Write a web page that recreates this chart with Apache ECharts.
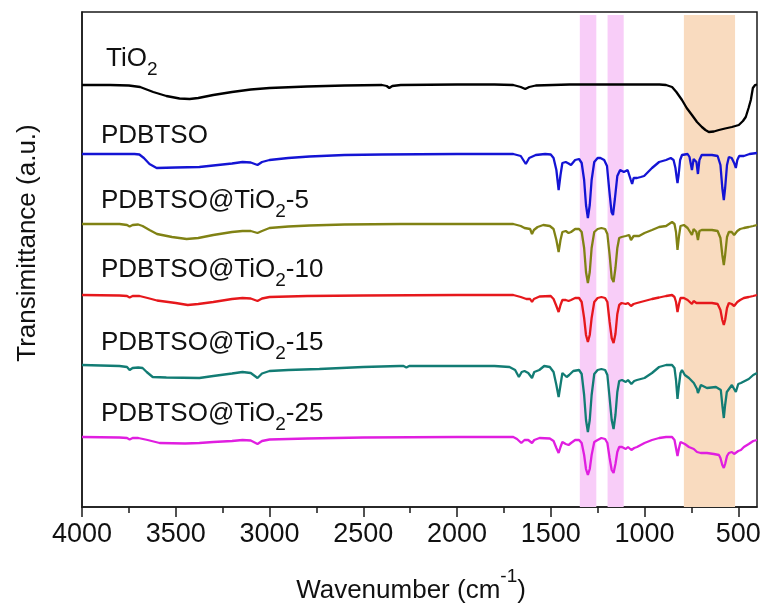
<!DOCTYPE html>
<html><head><meta charset="utf-8">
<script src="https://cdn.jsdelivr.net/npm/echarts@6/dist/echarts.min.js"></script>
<style>html,body{margin:0;padding:0;background:#fff}#c{width:766px;height:612px}</style>
</head><body><div id="c"></div>
<script>
// ---- data ----
const majorTicks = [500, 1000, 1500, 2000, 2500, 3000, 3500, 4000];
const minorTicks = [750, 1250, 1750, 2250, 2750, 3250, 3750];
const seriesNames = ['TiO2', 'PDBTSO', 'PDBTSO@TiO2-5', 'PDBTSO@TiO2-10', 'PDBTSO@TiO2-15', 'PDBTSO@TiO2-25'];
// label text split as [before subscript, subscript, after subscript]
const labelParts = [['TiO', '2', ''], ['PDBTSO', '', ''], ['PDBTSO@TiO', '2', '-5'], ['PDBTSO@TiO', '2', '-10'], ['PDBTSO@TiO', '2', '-15'], ['PDBTSO@TiO', '2', '-25']];
const xTitleParts = ['Wavenumber (cm', '-1', ')'];
const yTitle = 'Transimittance (a.u.)';
// vertical offsets of the stacked spectra (a.u.)
const offsets = [422, 353, 283, 212, 142, 70];
// highlighted wavenumber bands [from, to]
const bands = [[1345, 1257], [1197, 1111], [790, 517]];

// relative transmittance of each spectrum: [wavenumber, value]
const tio2 = [[4000,0],[3850,0],[3750,-0.5],[3690,-2],[3620,-7],[3550,-11],[3480,-13.5],[3426,-14],[3380,-13],[3300,-10],[3200,-7],[3100,-4.5],[3000,-3],[2800,-1.5],[2600,-0.5],[2400,0],[2375,-1],[2361,-3],[2345,-1],[2300,0],[2000,0.5],[1800,0.5],[1700,0],[1660,-2],[1636,-4],[1615,-2],[1580,-0.5],[1400,0.5],[1200,0.5],[1000,0.5],[920,0.5],[885,0],[853,-2],[830,-7],[800,-15],[775,-23],[747,-30],[720,-37],[694,-42],[675,-45],[657,-47],[630,-46.5],[603,-45],[570,-43.5],[534,-42],[497,-40],[475,-36],[460,-32],[445,-23],[433,-15],[422,-3],[410,0],[400,0.5]];
const pdbtso = [[4000,0],[3720,0],[3694,-0.5],[3670,-4],[3640,-10],[3602,-14],[3500,-13.5],[3374,-13],[3300,-11.5],[3200,-9.5],[3144,-8],[3100,-8.5],[3064,-11],[3040,-8],[3000,-6],[2900,-4],[2787,-2.5],[2600,-1],[2400,-0.5],[2000,0],[1700,0],[1660,-2],[1633,-10],[1615,-4],[1580,-1],[1530,0],[1500,-0.5],[1485,-4],[1470,-16],[1458,-36],[1448,-21],[1438,-9],[1420,-8],[1405,-9.5],[1392,-11],[1370,-6],[1349,-5],[1335,-9],[1322,-26],[1312,-51],[1302,-64],[1292,-51],[1282,-26],[1268,-8],[1250,-4],[1235,-4],[1215,-6],[1200,-12],[1188,-36],[1176,-58],[1168,-61],[1158,-45],[1145,-22],[1130,-16],[1110,-18],[1100,-20],[1090,-16],[1082,-16],[1073,-26],[1066,-30],[1058,-24],[1050,-26],[1040,-24],[1020,-23],[1002,-22],[960,-14],[922,-8],[885,-6],[860,-4],[845,-6],[835,-14],[828,-24],[824,-29],[818,-21],[810,-6],[800,-1],[790,0],[770,0],[760,-3],[747,-16],[738,-5],[731,-4],[723,-8],[715,-20],[707,-6],[695,-1],[640,-1],[610,-2],[595,-11],[585,-34],[577,-46],[570,-34],[560,-11],[550,-3],[535,-4],[522,-9],[513,-14],[505,-6],[495,-2],[470,-2],[440,0],[400,1]];
const pt5 = [[4000,0],[3800,0],[3760,-1],[3746,-2.5],[3730,-1],[3700,-0.5],[3677,-2],[3640,-6],[3600,-10],[3520,-13],[3442,-15],[3380,-14],[3300,-11],[3200,-8],[3144,-7],[3100,-7],[3064,-9],[3040,-7],[3000,-4],[2900,-2.5],[2787,-1.5],[2600,-0.5],[2300,0],[1700,0],[1660,-2],[1640,-4],[1610,-5],[1600,-10],[1590,-6],[1570,-3],[1540,-1],[1505,-2],[1485,-5],[1470,-16],[1458,-28],[1448,-16],[1438,-8],[1420,-7],[1405,-9],[1392,-8],[1370,-5],[1349,-5],[1335,-8],[1322,-24],[1312,-48],[1302,-59],[1292,-48],[1282,-24],[1268,-8],[1250,-5],[1230,-4],[1210,-5],[1198,-10],[1186,-31],[1175,-54],[1165,-58],[1155,-44],[1145,-24],[1135,-14],[1122,-13],[1100,-12],[1090,-10],[1082,-11],[1072,-16],[1066,-16],[1058,-12],[1040,-12],[1029,-12],[1000,-9],[960,-6],[922,-3],[885,-2],[853,2],[840,0],[832,-8],[824,-26],[816,-12],[808,-2],[800,0],[790,-1],[770,-4],[747,-11],[738,-5],[731,-5],[723,-8],[715,-16],[707,-7],[695,-6],[683,-6],[640,-6],[610,-7],[595,-14],[585,-31],[577,-41],[570,-31],[560,-13],[550,-8],[535,-8],[522,-11],[513,-13],[505,-7],[490,-5],[470,-4],[444,-3],[420,-2],[400,-1]];
const pt10 = [[4000,0],[3800,-0.5],[3760,-1],[3746,-2.5],[3730,-1],[3693,-1],[3650,-3],[3600,-5.5],[3500,-8],[3436,-10],[3380,-9],[3300,-7],[3200,-4],[3144,-3],[3100,-3.5],[3064,-6],[3040,-3.5],[3000,-2],[2800,-1],[2500,-0.5],[2000,0],[1700,0],[1660,-2],[1630,-4],[1610,-4],[1600,-7],[1590,-4],[1560,-1.5],[1500,-1],[1485,-4],[1470,-11],[1458,-17],[1448,-10],[1438,-5],[1420,-5],[1405,-6],[1392,-5],[1370,-3],[1349,-3],[1335,-7],[1322,-23],[1312,-40],[1302,-47],[1292,-40],[1282,-23],[1268,-7],[1250,-3],[1230,-2],[1210,-3],[1198,-7],[1186,-27],[1175,-43],[1165,-48],[1155,-39],[1145,-19],[1135,-10],[1122,-8],[1100,-9],[1088,-8],[1080,-9],[1072,-11],[1066,-11],[1058,-9],[1040,-8],[1000,-6],[960,-4],[922,-2.5],[885,-1],[853,0],[840,-2],[832,-7],[824,-17],[816,-9],[808,-3],[800,-2],[790,-3],[770,-5],[747,-9],[738,-6],[731,-7],[723,-8],[715,-10],[707,-8],[695,-8],[683,-8],[640,-8],[610,-9],[595,-15],[585,-25],[577,-30],[570,-25],[560,-13],[550,-8],[535,-9],[522,-11],[513,-12],[505,-7],[490,-5],[470,-3],[444,-2],[420,-1],[400,0]];
const pt15 = [[4000,0],[3800,-1],[3760,-2],[3746,-5],[3730,-3],[3700,-2.5],[3677,-3],[3655,-7],[3623,-12],[3550,-12.5],[3374,-13],[3300,-11],[3200,-8.5],[3144,-7],[3100,-8],[3064,-13],[3040,-8.5],[3000,-6],[2900,-5],[2734,-4],[2500,-2],[2308,-1],[2285,-1],[2270,-2.5],[2255,-1],[2000,-1],[1800,-1],[1720,-2],[1690,-5],[1670,-12],[1655,-7],[1640,-6],[1620,-8],[1600,-13],[1588,-7],[1561,-5],[1535,-1],[1505,-2],[1485,-7],[1470,-20],[1458,-32],[1448,-20],[1438,-8],[1428,-7],[1415,-12],[1402,-10],[1380,-6],[1349,-5],[1335,-9],[1322,-30],[1312,-55],[1302,-67],[1292,-55],[1282,-30],[1268,-9],[1250,-5],[1230,-4],[1210,-5],[1198,-10],[1186,-33],[1175,-55],[1165,-64],[1155,-50],[1145,-27],[1135,-16],[1120,-15],[1100,-17],[1088,-15],[1080,-16],[1070,-19],[1062,-18],[1055,-16],[1040,-15],[1000,-13],[960,-8],[922,-2],[885,0],[853,0],[840,-3],[832,-15],[824,-34],[816,-20],[808,-8],[800,-5],[785,-10],[763,-13],[737,-18],[720,-24],[715,-28],[699,-20],[667,-23],[619,-22],[593,-25],[585,-40],[577,-53],[570,-40],[561,-27],[534,-20],[522,-24],[513,-27],[500,-19],[486,-18],[444,-14],[420,-10],[400,-8]];
const pt25 = [[4000,0],[3800,-0.5],[3760,-1],[3746,-2.5],[3730,-1],[3700,-1],[3650,-3],[3586,-6],[3450,-6.5],[3374,-6],[3300,-5],[3200,-4],[3144,-3],[3100,-3.5],[3064,-7],[3040,-4],[3000,-2.5],[2800,-1.5],[2500,-0.5],[2000,0],[1700,0],[1680,-2],[1657,-6],[1640,-3],[1620,-3],[1600,-6],[1588,-3],[1560,-1],[1505,-1.5],[1485,-4],[1470,-11],[1458,-16],[1448,-10],[1438,-5],[1420,-7],[1405,-8],[1392,-6],[1370,-3],[1349,-3],[1335,-6],[1322,-18],[1312,-32],[1302,-38],[1292,-32],[1282,-18],[1268,-5],[1250,-3],[1230,-1],[1210,-2],[1198,-6],[1186,-21],[1175,-33],[1165,-36],[1155,-27],[1145,-15],[1135,-10],[1120,-10],[1100,-12],[1088,-10],[1080,-11],[1070,-13],[1062,-13],[1055,-11],[1040,-10],[1000,-6],[960,-3],[922,-1],[885,0],[853,0],[840,-3],[832,-11],[824,-19],[816,-11],[808,-5],[800,-4],[785,-7],[763,-10],[737,-12],[720,-15],[700,-16],[667,-16],[630,-17],[603,-18],[595,-21],[585,-28],[577,-31],[570,-27],[560,-19],[550,-16],[534,-15],[522,-17],[513,-18],[500,-14],[486,-13],[470,-10],[444,-7],[420,-4],[400,-3]];
const spectra = [tio2, pdbtso, pt5, pt10, pt15, pt25];

// ---- styling / layout ----
const FONT = "'Liberation Sans', Arial, sans-serif";
const lineColors = ['#000000', '#1414d4', '#808214', '#e6181c', '#127c74', '#e01ee0'];
const bandColors = ['#f8cdf8', '#f8cdf8', '#f9dbbf'];
const labelPos = [[106, 44], [101, 121], [101, 186], [101, 255], [101, 328], [101, 399]]; // [x, top]
const TEXT_COLOR = '#111';

const mctx = document.createElement('canvas').getContext('2d');
function textWidth(t, size) { mctx.font = size + 'px ' + FONT; return mctx.measureText(t).width; }
function textEl(t, x, y, size, lh, extra) {
  return Object.assign({
    type: 'text', x: x, y: y, z: 10, silent: true,
    style: { text: t, x: 0, y: 0, font: size + 'px ' + FONT, fill: TEXT_COLOR, lineHeight: lh,
      align: 'left', textAlign: 'left', verticalAlign: 'top', textVerticalAlign: 'top' }
  }, extra || {});
}

const series = spectra.map((s, i) => ({
  name: seriesNames[i],
  type: 'line',
  showSymbol: false,
  symbol: 'none',
  silent: true,
  lineStyle: { color: lineColors[i], width: 2.3 },
  data: s.map(p => [p[0], p[1] + offsets[i]]),
  z: 3
}));
series[0].markArea = {
  silent: true,
  data: bands.map((b, i) => [
    { coord: [b[0], 0], itemStyle: { color: bandColors[i], opacity: 1 } },
    { coord: [b[1], 492] }
  ])
};

const graphics = [];
const MAIN = 26, SUB = 19;
labelParts.forEach((parts, i) => {
  const [x0, y0] = labelPos[i];
  graphics.push(textEl(parts[0], x0, y0, MAIN, 30));
  let x = x0 + textWidth(parts[0], MAIN);
  if (parts[1]) {
    graphics.push(textEl(parts[1], x, y0 + 15, SUB, 22));
    x += textWidth(parts[1], SUB);
  }
  if (parts[2]) graphics.push(textEl(parts[2], x, y0, MAIN, 30));
});

// x axis title with superscript
(function () {
  const T = 26, S = 19, top = 576, cx = 411;
  const w0 = textWidth(xTitleParts[0], T), w1 = textWidth(xTitleParts[1], S), w2 = textWidth(xTitleParts[2], T);
  let x = cx - (w0 + w1 + w2) / 2;
  graphics.push(textEl(xTitleParts[0], x, top, T, 30)); x += w0;
  graphics.push(textEl(xTitleParts[1], x, top - 10, S, 22)); x += w1;
  graphics.push(textEl(xTitleParts[2], x, top, T, 30));
})();

graphics.push({
  type: 'text', x: 28, y: 243, rotation: Math.PI / 2, z: 10, silent: true,
  style: {
    text: yTitle, x: 0, y: 0, font: '26px ' + FONT, fill: TEXT_COLOR,
    align: 'center', textAlign: 'center', verticalAlign: 'middle', textVerticalAlign: 'middle'
  }
});

const chart = echarts.init(document.getElementById('c'), null, { renderer: 'canvas' });
chart.setOption({
  animation: false,
  backgroundColor: '#fff',
  grid: { left: 82, right: 9, top: 12, bottom: 105, show: true, borderColor: '#1a1a1a', borderWidth: 1.5, backgroundColor: 'transparent' },
  xAxis: [{
    type: 'value', inverse: true, min: 400, max: 4000, position: 'bottom',
    axisLine: { show: true, lineStyle: { color: '#1a1a1a', width: 1.5 } },
    axisTick: { show: true, inside: false, length: 10, customValues: majorTicks, lineStyle: { color: '#1a1a1a', width: 1.5 } },
    axisLabel: { show: true, customValues: majorTicks, margin: 14, fontSize: 27, fontFamily: FONT, color: TEXT_COLOR, formatter: v => String(v) },
    splitLine: { show: false }
  }, {
    type: 'value', inverse: true, min: 400, max: 4000, position: 'bottom', offset: 0,
    axisLine: { show: false },
    axisTick: { show: true, inside: false, length: 6, customValues: minorTicks, lineStyle: { color: '#1a1a1a', width: 1.5 } },
    axisLabel: { show: false },
    splitLine: { show: false }
  }],
  yAxis: [{
    type: 'value', min: 0, max: 495,
    axisLine: { show: true, lineStyle: { color: '#1a1a1a', width: 1.5 } },
    axisTick: { show: false }, axisLabel: { show: false }, splitLine: { show: false }
  }],
  series: series,
  graphic: graphics
});
</script>
</body></html>
